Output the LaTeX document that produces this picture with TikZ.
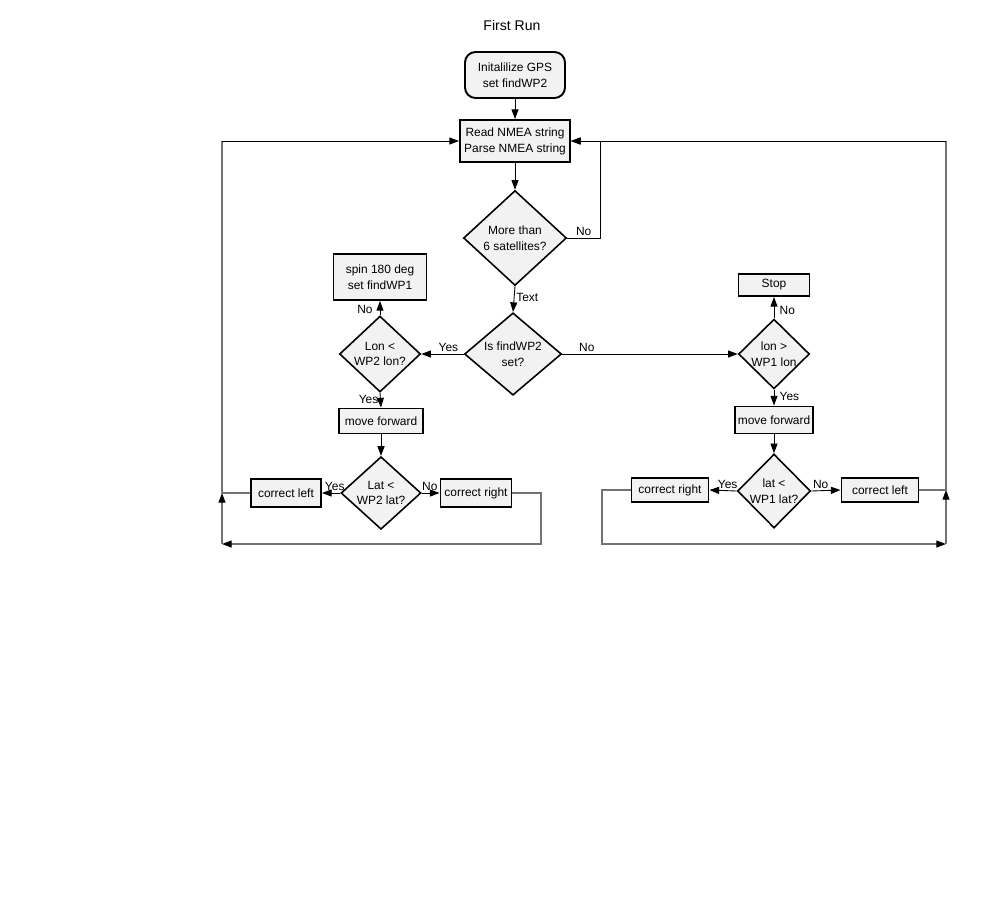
\documentclass[tikz,border=0pt]{standalone}
\usepackage{fontspec}
\setmainfont{Liberation Sans}
\usetikzlibrary{shapes.geometric,arrows.meta}

\begin{document}
\begin{tikzpicture}[every node/.style={font=\fontsize{6.8}{9}\selectfont, align=center},
    box/.style={rectangle, draw, line width=1.1pt, fill=black!5, inner sep=0pt},
    dia/.style={diamond, draw, line width=0.9pt, fill=black!5, inner sep=0pt},
    lbl/.style={inner sep=1pt},
    arr/.style={-{Triangle[length=5.5pt,width=4pt]}, line width=0.5pt},
    gline/.style={draw=black!55, line width=0.6pt},
    garr/.style={gline, -{Triangle[length=5.5pt,width=4pt,color=black]}}]
                \useasboundingbox (0,0) rectangle (20,-18);

                \node (T) at (10.24,-0.5) {\fontsize{8}{10}\selectfont First Run};
                \node[box, rounded corners=6pt, minimum width=2cm, minimum height=0.92cm] (A) at (10.3,-1.5) {Initalilize GPS\\set findWP2};
                \node[box, minimum width=2.2cm, minimum height=0.84cm] (B) at (10.3,-2.82) {Read NMEA string\\Parse NMEA string};
                \node[dia, minimum width=2.06cm, minimum height=1.9cm] (C) at (10.3,-4.76) {More than\\6 satellites?};
                \node[dia, minimum width=1.94cm, minimum height=1.64cm] (D) at (10.26,-7.08) {Is findWP2\\set?};

                % left branch
                \node[box, minimum width=1.86cm, minimum height=0.92cm] (E) at (7.6,-5.54) {spin 180 deg\\set findWP1};
                \node[dia, minimum width=1.62cm, minimum height=1.28cm] (F) at (7.6,-7.08) {Lon <\\WP2 lon?};
                \node[box, minimum width=1.68cm, minimum height=0.5cm] (G) at (7.62,-8.42) {move forward};
                \node[dia, minimum width=1.6cm, minimum height=1.4cm] (H) at (7.62,-9.86) {Lat <\\WP2 lat?};
                \node[box, minimum width=1.4cm, minimum height=0.56cm] (I) at (5.72,-9.86) {correct left};
                \node[box, minimum width=1.42cm, minimum height=0.56cm] (J) at (9.52,-9.86) {correct right};

                % right branch
                \node[dia, minimum width=1.42cm, minimum height=1.36cm] (K) at (15.48,-7.08) {lon >\\WP1 lon};
                \node[box, minimum width=1.42cm, minimum height=0.44cm] (L) at (15.48,-5.7) {Stop};
                \node[box, minimum width=1.56cm, minimum height=0.54cm] (M) at (15.48,-8.4) {move forward};
                \node[dia, minimum width=1.44cm, minimum height=1.48cm] (N) at (15.48,-9.82) {lat <\\WP1 lat?};
                \node[box, minimum width=1.54cm, minimum height=0.48cm] (O) at (13.4,-9.8) {correct right};
                \node[box, minimum width=1.54cm, minimum height=0.48cm] (P) at (17.6,-9.8) {correct left};

                \coordinate (c1) at (12,-2.82);
                \coordinate (lt) at (4.44,-2.82);
                \coordinate (lj) at (4.44,-9.86);
                \coordinate (lb) at (4.44,-10.88);
                \coordinate (lr) at (10.82,-10.88);
                \coordinate (rt) at (18.92,-2.82);
                \coordinate (rj) at (18.92,-9.8);
                \coordinate (rb) at (18.92,-10.88);
                \coordinate (rl) at (12.04,-10.88);

                \draw[arr] (A) -- (B);
                \draw[arr] (B) -- (C);
                \draw[arr] (C.east) -| node[lbl, above, pos=0.25] (n1) {No} (c1) -- (B.east);
                \draw[arr] (C.south) -- node[lbl, right, pos=0.45] (n2) {Text} (D.north);
                \draw[arr] (D.west) -- node[lbl, above, pos=0.36] (n3) {Yes} (F.east);
                \draw[arr] (D.east) -- node[lbl, above, pos=0.14] (n4) {No} (K.west);
                \draw[arr] (F.north) -- node[lbl, left, pos=0.4, xshift=-3pt] (n5) {No} (E.south);
                \draw[arr] (F.south) -- node[lbl, left, pos=0.45] (n6) {Yes} (G.north);
                \draw[arr] (G) -- (H);
                \draw[arr] (H.west) -- node[lbl, above, pos=0.3] (n7) {Yes} (I.east);
                \draw[arr] (H.east) -- node[lbl, above, pos=0.45] (n8) {No} (J.west);
                \draw[arr] (K.north) -- node[lbl, right, pos=0.35, xshift=2pt] (n9) {No} (L.south);
                \draw[arr] (K.south) -- node[lbl, right, pos=0.45, xshift=2pt] (n10) {Yes} (M.north);
                \draw[arr] (M) -- (N);
                \draw[arr] (N.west) -- node[lbl, above, pos=0.33] (n11) {Yes} (O.east);
                \draw[arr] (N.east) -- node[lbl, above, pos=0.32] (n12) {No} (P.west);

                % loops back to reading
                \draw[garr] (J.east) -| (lr) -- (lb);
                \draw[garr] (lb) -- (lj);
                \draw[gline] (I.west) -- (lj) -- (lt);
                \draw[arr] (lt) -- (B.west);
                \draw[garr] (O.west) -| (rl) -- (rb);
                \draw[garr] (rb) -- (rj);
                \draw[gline] (P.east) -- (rj) -- (rt);
                \draw[arr] (rt) -- (B.east);
            \end{tikzpicture}
\end{document}
